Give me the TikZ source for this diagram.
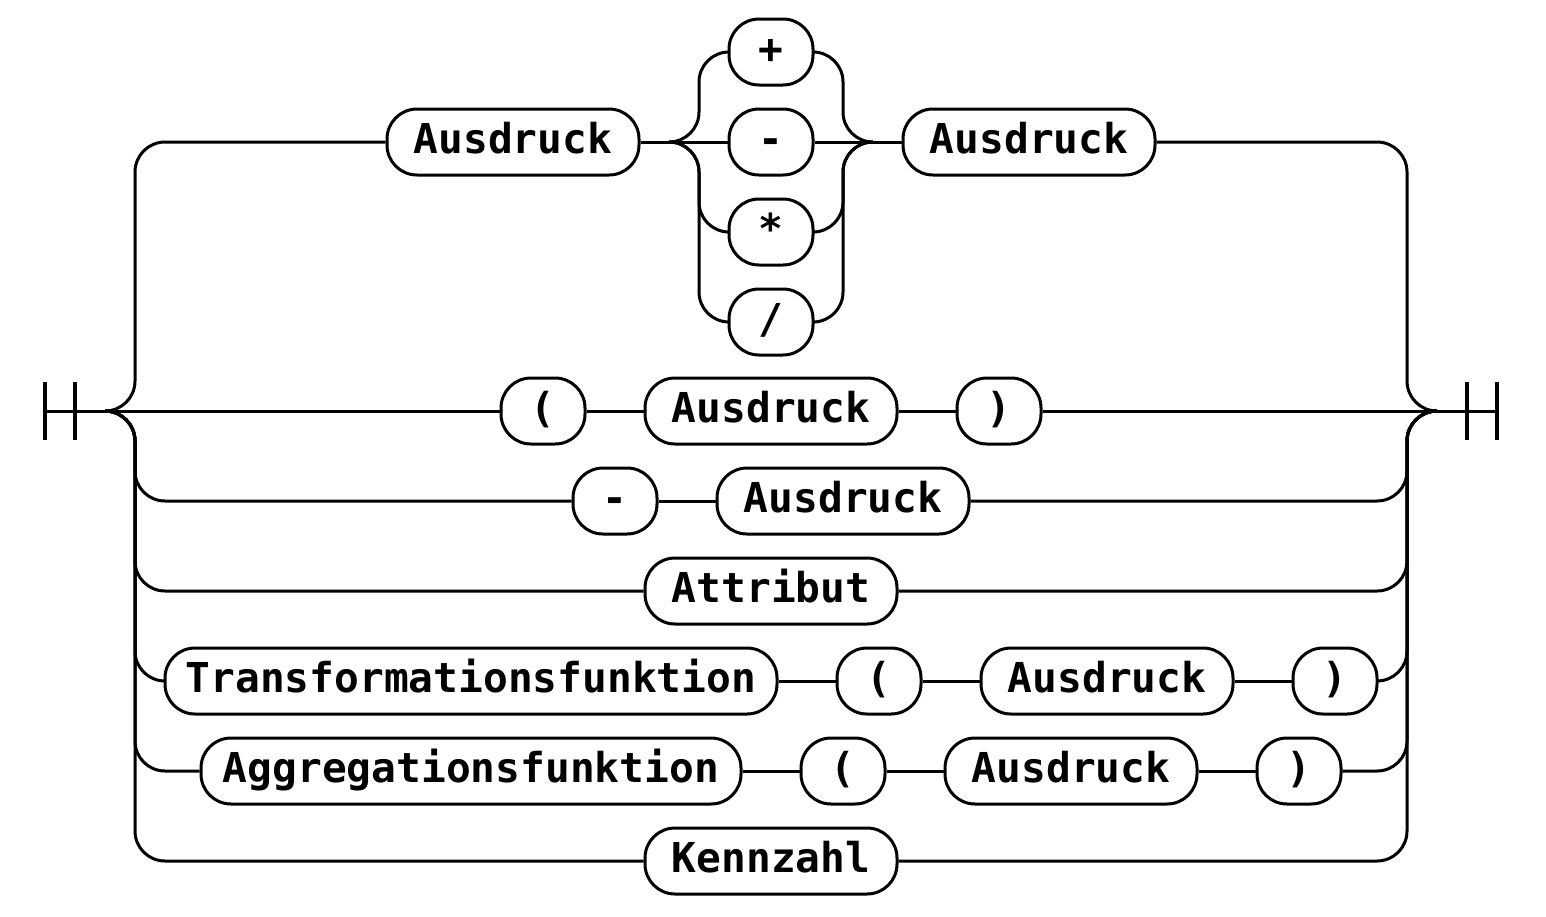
\documentclass[tikz,border=0pt]{standalone}
\usepackage{fontspec}
\newfontfamily\railfont{DejaVu Sans Mono}
\usetikzlibrary{positioning}

\begin{document}
\begin{tikzpicture}[
    x=0.5pt, y=-0.5pt,
    node distance=114pt,
    on grid,
    term/.style={draw, line width=1.5pt, rounded corners=15pt, minimum height=33pt,
        minimum width=42pt, inner xsep=0pt, inner ysep=0pt, text height=15pt, text depth=3.7pt,
        font=\railfont\bfseries\fontsize{20.6pt}{24pt}\selectfont},
    chars/.style={minimum width=12pt*#1+30pt},
    rail/.style={line width=1.5pt, rounded corners=15pt},
    endbar/.style={line width=2pt},
    every edge/.append style={line width=1.5pt}
]
   \useasboundingbox (0,0) rectangle (1546,916);

   % Split and join points
   \coordinate (le) at (45,411);
   \coordinate (ls) at (105,411);
   \coordinate (rs) at (1437,411);
   \coordinate (re) at (1497,411);
   \coordinate (os) at (669,142); % operator split
   \coordinate (oj) at (873,142); % operator join

   % Terms
   \node[term, chars=8] (ex1) at (513,142) {Ausdruck};
   \node[term, right=129pt of ex1] (minus) {-};
   \node[term, above=45pt of minus] (plus) {+};
   \node[term, below=45pt of minus] (times) {*};
   \node[term, below=45pt of times] (div) {/};
   \node[term, chars=8, right=129pt of minus] (ex2) {Ausdruck};

   \node[term] (lp1) at (543,411) {(};
   \node[term, chars=8, right=of lp1] (ex3) {Ausdruck};
   \node[term, right=of ex3] (rp1) {)};

   \node[term] (neg) at (615,501) {-};
   \node[term, chars=8, right=of neg] (ex4) {Ausdruck};

   \node[term, chars=8] (attr) at (771,591) {Attribut};

   \node[term, chars=23] (trans) at (471,681) {Transformationsfunktion};
   \node[term, right=204pt of trans] (lp2) {(};
   \node[term, chars=8, right=of lp2] (ex5) {Ausdruck};
   \node[term, right=of ex5] (rp2) {)};

   \node[term, chars=20] (aggr) at (471,771) {Aggregationsfunktion};
   \node[term, right=186pt of aggr] (lp3) {(};
   \node[term, chars=8, right=of lp3] (ex6) {Ausdruck};
   \node[term, right=of ex6] (rp3) {)};

   \node[term, chars=8] (kz) at (771,861) {Kennzahl};

   % End bars
   \draw[endbar] (le) ++(0,-29) -- ++(0,58) ++(30,0) -- ++(0,-58);
   \draw[endbar] (re) ++(0,-29) -- ++(0,58) ++(-30,0) -- ++(0,-58);

   % Straight tracks
   \path
   (le) edge (ls)
   (ls) edge (lp1)
   (lp1) edge (ex3)
   (ex3) edge (rp1)
   (rp1) edge (rs)
   (rs) edge (re)

   (ex1) edge (os)
   (os) edge (minus)
   (minus) edge (oj)
   (oj) edge (ex2)

   (neg) edge (ex4)
   (trans) edge (lp2)
   (lp2) edge (ex5)
   (ex5) edge (rp2)
   (aggr) edge (lp3)
   (lp3) edge (ex6)
   (ex6) edge (rp3);

   % Left branches
   \draw[rail] (ls) -- ++(30,0) |- (ex1.west);
   \draw[rail] (ls) -- ++(30,0) |- (neg.west);
   \draw[rail] (ls) -- ++(30,0) |- (attr.west);
   \draw[rail] (ls) -- ++(30,0) |- (trans.west);
   \draw[rail] (ls) -- ++(30,0) |- (aggr.west);
   \draw[rail] (ls) -- ++(30,0) |- (kz.west);

   % Right branches
   \draw[rail] (rs) -- ++(-30,0) |- (ex2.east);
   \draw[rail] (rs) -- ++(-30,0) |- (ex4.east);
   \draw[rail] (rs) -- ++(-30,0) |- (attr.east);
   \draw[rail] (rs) -- ++(-30,0) |- (rp2.east);
   \draw[rail] (rs) -- ++(-30,0) |- (rp3.east);
   \draw[rail] (rs) -- ++(-30,0) |- (kz.east);

   % Operator choice
   \draw[rail] (os) -- ++(30,0) |- (plus.west);
   \draw[rail] (os) -- ++(30,0) |- (times.west);
   \draw[rail] (os) -- ++(30,0) |- (div.west);
   \draw[rail] (oj) -- ++(-30,0) |- (plus.east);
   \draw[rail] (oj) -- ++(-30,0) |- (times.east);
   \draw[rail] (oj) -- ++(-30,0) |- (div.east);
\end{tikzpicture}
\end{document}
